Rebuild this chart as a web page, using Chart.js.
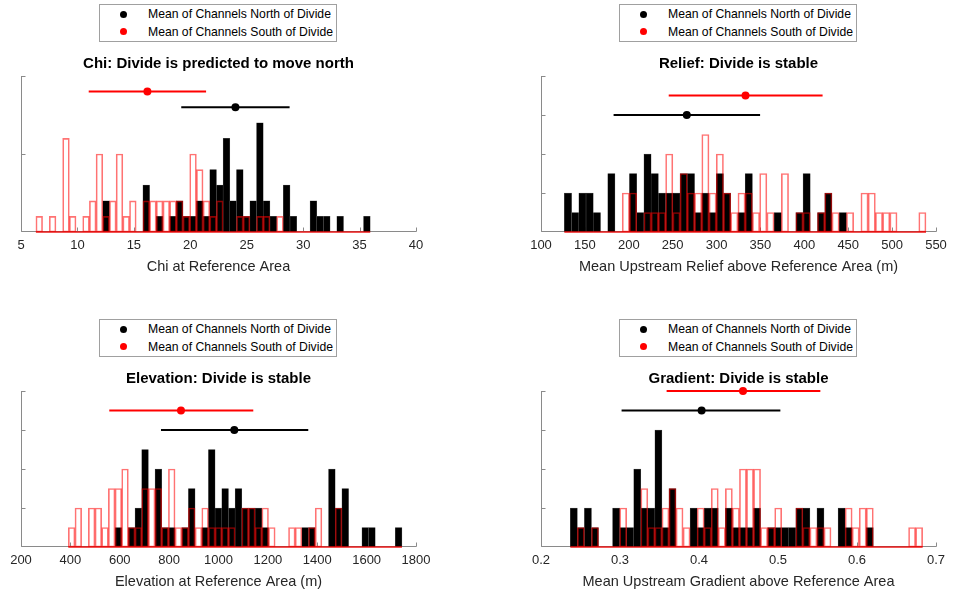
<!DOCTYPE html>
<html>
<head>
<meta charset="utf-8">
<title>Divide stability histograms</title>
<script src="https://cdn.jsdelivr.net/npm/chart.js@4.4.1/dist/chart.umd.min.js"></script>
<style>
  html, body { margin:0; padding:0; background:#fff; }
  body { width:958px; height:599px; position:relative; overflow:hidden; font-family:"Liberation Sans", Arial, Helvetica, sans-serif; }
  .panel { position:absolute; width:438px; height:284px; }
  .panel canvas { position:absolute; left:0; top:0; }
  .legend { position:absolute; left:99px; top:4px; width:238px; height:38px; box-sizing:border-box; border:1px solid #a0a0a0; background:#fff; font-size:12.2px; color:#000; }
  .legend .row { position:absolute; left:0; width:100%; height:14px; line-height:14px; white-space:nowrap; }
  .legend .dot { position:absolute; left:20px; top:3.5px; width:7px; height:7px; border-radius:50%; }
  .legend .txt { position:absolute; left:48px; top:0; }
  .ptitle { position:absolute; left:21px; width:395px; top:54px; height:18px; line-height:18px; text-align:center; font-weight:bold; font-size:15px; color:#000; white-space:nowrap; }
</style>
</head>
<body>
<script>
// ---------------- DATA ----------------
const legendLabels = ['Mean of Channels North of Divide', 'Mean of Channels South of Divide'];

// Chi
const chiTitle = 'Chi: Divide is predicted to move north';
const chiXLabel = 'Chi at Reference Area';
const chiBinStart = 6.32;
const chiBinWidth = 0.5925;
const chiNorthCounts = [0,0,0,0,0,0,0,0,0,0, 2,0,0,0,0,0,3,0,1,0, 1,2,1,1,2,1,4,3,6,2, 4,1,2,7,2,1,0,3,1,0, 0,2,1,1,0,1,0,0,0,1];
const chiSouthCounts = [1,0,1,0,6,1,0,1,2,5, 1,2,5,1,2,0,2,2,2,2, 2,2,1,5,4,2,1,2,0,0, 1,1,0,1,1,0,1,0,0,0, 0,0,0,0,0,0,0,0,0,0];
const chiNorthStats = [19.2, 24.0, 28.8];   // [mean - sd, mean, mean + sd]
const chiSouthStats = [11.0, 16.2, 21.4];
const chiLevels = [9, 8];                    // [south, north] height of the mean markers
const chiXTicks = [5, 10, 15, 20, 25, 30, 35, 40];
const chiYTicks = [0, 5, 10];

// Relief
const reliefTitle = 'Relief: Divide is stable';
const reliefXLabel = 'Mean Upstream Relief above Reference Area (m)';
const reliefBinStart = 126.6;
const reliefBinWidth = 8.24;
const reliefNorthCounts = [2,1,2,2,1,0,3,0,0,3, 1,4,3,2,2,2,3,3,1,2, 1,3,2,0,1,3,0,0,0,1, 0,0,1,3,0,1,2,0,1,0, 0,0,0,0,0,0,0,0,0,0];
const reliefSouthCounts = [0,0,0,0,0,0,0,0,2,2, 0,1,1,1,4,1,3,2,2,5, 2,4,2,1,2,2,1,3,1,0, 3,0,1,1,0,1,2,1,0,1, 0,2,2,1,1,1,0,0,0,1];
const reliefNorthStats = [182.7, 266.1, 349.6];
const reliefSouthStats = [245.5, 333.0, 420.8];
const reliefLevels = [7, 6];
const reliefXTicks = [100, 150, 200, 250, 300, 350, 400, 450, 500, 550];
const reliefYTicks = [0, 2, 4, 6, 8];

// Elevation
const elevTitle = 'Elevation: Divide is stable';
const elevXLabel = 'Elevation at Reference Area (m)';
const elevBinStart = 391.6;
const elevBinWidth = 27.03;
const elevNorthCounts = [0,0,0,0,0,0,0,1,0,1, 2,5,0,4,1,1,0,1,3,0, 1,5,2,3,2,3,2,2,2,1, 0,0,0,0,0,1,1,0,0,4, 2,3,0,0,1,1,0,0,0,1];
const elevSouthCounts = [1,2,0,2,2,1,3,3,4,1, 1,3,3,3,1,4,1,1,2,1, 2,1,1,1,1,0,2,2,1,2, 1,0,0,1,1,0,1,2,0,0, 2,0,0,0,0,0,0,0,0,0];
const elevNorthStats = [767, 1064, 1363.6];
const elevSouthStats = [557.6, 848, 1140.9];
const elevLevels = [7, 6];
const elevXTicks = [200, 400, 600, 800, 1000, 1200, 1400, 1600, 1800];
const elevYTicks = [0, 2, 4, 6, 8];

// Gradient
const gradTitle = 'Gradient: Divide is stable';
const gradXLabel = 'Mean Upstream Gradient above Reference Area';
const gradBinStart = 0.2371;
const gradBinWidth = 0.00892;
const gradNorthCounts = [2,1,2,1,0,0,2,1,1,4, 2,2,6,1,3,0,0,2,1,2, 2,0,2,1,1,1,2,0,1,1, 1,1,2,2,0,2,0,0,2,1, 0,0,1,0,0,0,0,0,0,0];
const gradSouthCounts = [0,1,0,1,0,0,0,2,0,0, 3,1,1,2,3,2,1,0,2,1, 3,1,3,2,4,4,4,1,1,2, 0,0,2,1,1,1,1,0,0,2, 1,2,2,0,0,0,0,0,1,1];
const gradNorthStats = [0.302, 0.4033, 0.503];
const gradSouthStats = [0.359, 0.4557, 0.5536];
const gradLevels = [8, 7];
const gradXTicks = [0.2, 0.3, 0.4, 0.5, 0.6, 0.7];
const gradYTicks = [0, 2, 4, 6, 8];

// ---------------- LAYOUT / STYLE ----------------
const RED = '#ff0000';
const BLACK = '#000000';
Chart.defaults.font.family = '"Liberation Sans", Arial, Helvetica, sans-serif';
Chart.defaults.color = '#262626';

const panels = [
  {left: 0,   top: 0,   title: chiTitle,    xlabel: chiXLabel,    start: chiBinStart,    width: chiBinWidth,    north: chiNorthCounts,    south: chiSouthCounts,    nStats: chiNorthStats,    sStats: chiSouthStats,    levels: chiLevels,    xTicks: chiXTicks,    yTicks: chiYTicks},
  {left: 520, top: 0,   title: reliefTitle, xlabel: reliefXLabel, start: reliefBinStart, width: reliefBinWidth, north: reliefNorthCounts, south: reliefSouthCounts, nStats: reliefNorthStats, sStats: reliefSouthStats, levels: reliefLevels, xTicks: reliefXTicks, yTicks: reliefYTicks},
  {left: 0,   top: 315, title: elevTitle,   xlabel: elevXLabel,   start: elevBinStart,   width: elevBinWidth,   north: elevNorthCounts,   south: elevSouthCounts,   nStats: elevNorthStats,   sStats: elevSouthStats,   levels: elevLevels,   xTicks: elevXTicks,   yTicks: elevYTicks},
  {left: 520, top: 315, title: gradTitle,   xlabel: gradXLabel,   start: gradBinStart,   width: gradBinWidth,   north: gradNorthCounts,   south: gradSouthCounts,   nStats: gradNorthStats,   sStats: gradSouthStats,   levels: gradLevels,   xTicks: gradXTicks,   yTicks: gradYTicks}
];

// MATLAB-like axes: axis lines with inward tick marks
const axesPlugin = {
  id: 'matlabAxes',
  beforeDatasetsDraw(chart, args, opts) {
    const {ctx, chartArea: a, scales: {x, y}} = chart;
    ctx.save();
    ctx.strokeStyle = '#8a8a8a';
    ctx.lineWidth = 1;
    const lx = Math.round(a.left) + 0.5;
    const by = Math.round(a.bottom) - 0.5;
    ctx.beginPath();
    ctx.moveTo(lx, Math.round(a.top)); ctx.lineTo(lx, by);
    ctx.moveTo(lx, by); ctx.lineTo(Math.round(a.right) + 0.5, by);
    x.ticks.forEach(t => {
      const px = Math.round(x.getPixelForValue(t.value)) + 0.5;
      ctx.moveTo(px, by); ctx.lineTo(px, by - 4);
    });
    (opts.yTicks || []).forEach(v => {
      const py = Math.min(Math.round(y.getPixelForValue(v)) + 0.5, by);
      ctx.moveTo(lx, py); ctx.lineTo(lx + 4, py);
    });
    ctx.stroke();
    ctx.restore();
  }
};

function binPoints(counts, start, w) {
  return counts.map((c, i) => ({x: start + w * (i + 0.5), y: c}));
}

panels.forEach((p, k) => {
  const div = document.createElement('div');
  div.className = 'panel';
  div.style.left = p.left + 'px';
  div.style.top = p.top + 'px';
  document.body.appendChild(div);

  const canvas = document.createElement('canvas');
  canvas.width = 438; canvas.height = 284;
  canvas.id = 'c' + k;
  div.appendChild(canvas);

  const title = document.createElement('div');
  title.className = 'ptitle';
  title.textContent = p.title;
  div.appendChild(title);

  const leg = document.createElement('div');
  leg.className = 'legend';
  leg.innerHTML =
    '<div class="row" style="top:2px"><span class="dot" style="background:' + BLACK + '"></span><span class="txt">' + legendLabels[0] + '</span></div>' +
    '<div class="row" style="top:19.5px"><span class="dot" style="background:' + RED + '"></span><span class="txt">' + legendLabels[1] + '</span></div>';
  div.appendChild(leg);

  const nBins = p.north.length;
  const sLvl = p.levels[0], nLvl = p.levels[1];

  new Chart(canvas, {
    type: 'bar',
    data: {
      datasets: [
        {type: 'line', data: [{x: p.sStats[0], y: sLvl}, {x: p.sStats[2], y: sLvl}], borderColor: RED, borderWidth: 2, pointRadius: 0, clip: false, order: 0},
        {type: 'line', data: [{x: p.sStats[1], y: sLvl}], showLine: false, pointRadius: 4, pointBackgroundColor: RED, pointBorderColor: RED, pointBorderWidth: 0, clip: false, order: 0},
        {type: 'line', data: [{x: p.nStats[0], y: nLvl}, {x: p.nStats[2], y: nLvl}], borderColor: BLACK, borderWidth: 2, pointRadius: 0, clip: false, order: 0},
        {type: 'line', data: [{x: p.nStats[1], y: nLvl}], showLine: false, pointRadius: 4, pointBackgroundColor: BLACK, pointBorderColor: BLACK, pointBorderWidth: 0, clip: false, order: 0},
        {type: 'line', data: [{x: p.start, y: 0}, {x: p.start + p.width * nBins, y: 0}], borderColor: 'rgba(235,0,0,0.9)', borderWidth: 1.5, pointRadius: 0, clip: false, order: 1},
        {type: 'bar', data: binPoints(p.south, p.start, p.width), backgroundColor: 'rgba(255,255,255,0)', borderColor: 'rgba(255,0,0,0.55)', borderWidth: 1, borderSkipped: false, grouped: false, barPercentage: 1, categoryPercentage: 1, order: 2},
        {type: 'bar', data: binPoints(p.north, p.start, p.width), backgroundColor: '#000000', borderColor: '#5a5a5a', borderWidth: 0.5, borderSkipped: false, grouped: false, barPercentage: 1, categoryPercentage: 1, order: 3}
      ]
    },
    options: {
      responsive: false,
      maintainAspectRatio: false,
      animation: false,
      events: [],
      layout: {padding: {left: 21, right: 22, top: 76, bottom: 0}},
      plugins: {
        legend: {display: false},
        tooltip: {enabled: false},
        title: {display: false},
        matlabAxes: {yTicks: p.yTicks}
      },
      scales: {
        x: {
          type: 'linear',
          min: p.xTicks[0],
          max: p.xTicks[p.xTicks.length - 1],
          offset: false,
          grid: {display: false, drawTicks: false, offset: false},
          border: {display: false},
          ticks: {font: {size: 13}, color: '#262626', padding: 6, maxRotation: 0, autoSkip: false, callback: v => String(v)},
          title: {display: true, text: p.xlabel, font: {size: 14.5}, color: '#262626', padding: {top: 0, bottom: 8.3}},
          afterBuildTicks: s => { s.ticks = p.xTicks.map(v => ({value: v})); },
          afterFit: s => { s.height = 52; }
        },
        y: {
          type: 'linear',
          min: 0,
          max: p.yTicks[p.yTicks.length - 1],
          grid: {display: false, drawTicks: false},
          border: {display: false},
          ticks: {display: false},
          afterFit: s => { s.width = 0; }
        }
      }
    },
    plugins: [axesPlugin]
  });
});
</script>
</body>
</html>
